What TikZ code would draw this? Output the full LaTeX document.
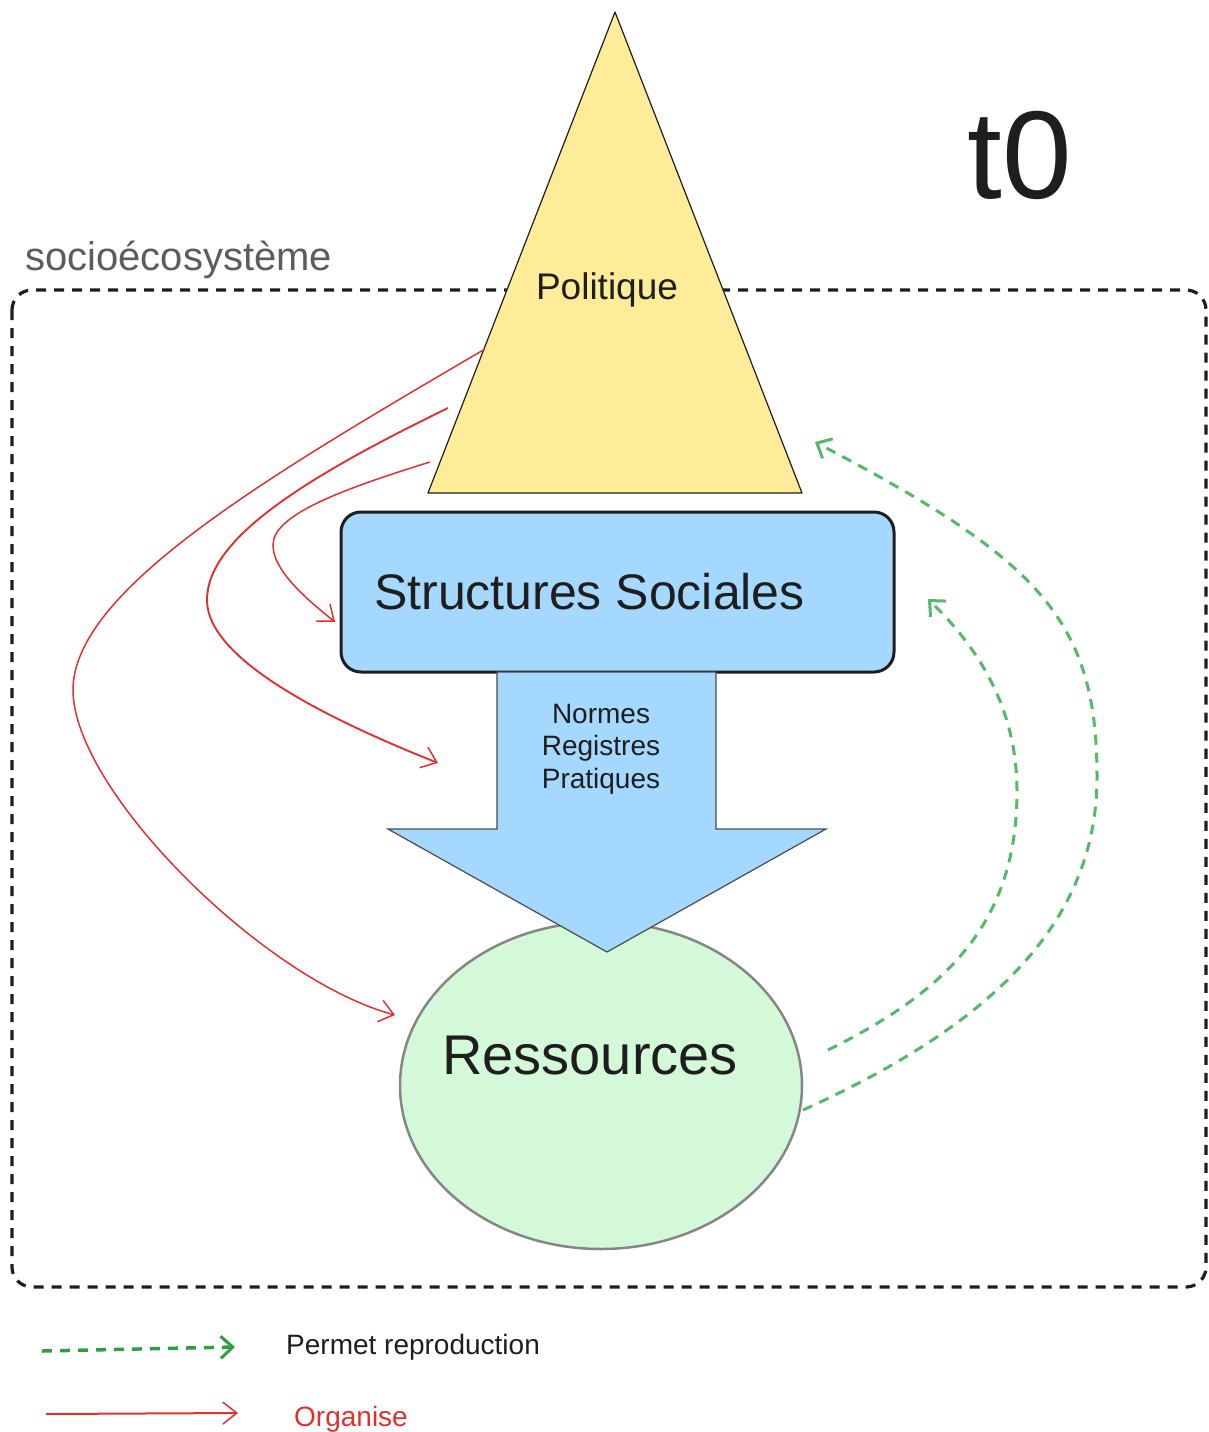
\documentclass[tikz,border=0pt]{standalone}
\usepackage{fontspec}
\setmainfont{Liberation Sans}
\usetikzlibrary{arrows.meta,shapes.geometric}
\definecolor{polyel}{HTML}{FFEC99}
\definecolor{sblue}{HTML}{A5D8FF}
\definecolor{rgreen}{HTML}{D3F9D8}
\definecolor{orgred}{HTML}{E03131}
\definecolor{repgreen}{HTML}{55B96B}
\definecolor{legreen}{HTML}{2F9E44}
\definecolor{inkc}{HTML}{1E1E1E}
\definecolor{labgray}{HTML}{5C5C5C}
\definecolor{elgray}{HTML}{868686}
\tikzset{
  frame/.style={draw=inkc, line width=3.2pt, dash pattern=on 10pt off 8pt, rounded corners=20pt},
  organise/.style={draw=orgred, line width=1.5pt, -{Straight Barb[length=14pt,width=22pt,line width=1.5pt]}},
  reprod/.style={draw=repgreen, line width=3pt, dash pattern=on 10pt off 8pt, -{Straight Barb[length=12pt,width=22pt,line width=3pt]}},
  txt/.style={inner sep=0pt, text=inkc},
}
\begin{document}
\begin{tikzpicture}[x=1pt,y=-1pt]
\useasboundingbox (0,0) rectangle (1208,1432);
% frame
\draw[frame] (12,290) rectangle (1206,1287);
\node[txt, text=labgray, anchor=base west, font=\fontsize{40}{48}\selectfont] (lab) at (25,270) {socioécosystème};
% triangle
\coordinate (tA) at (615,12);
\coordinate (tL) at (428,493);
\coordinate (tR) at (802,493);
\filldraw[fill=polyel, draw=inkc, line width=1.2pt, line join=round] (tA) -- (tR) -- (tL) -- cycle;
\node[txt, font=\fontsize{37}{44}\selectfont] (pol) at (607,290) {Politique};
% structures sociales
\node[draw=inkc, fill=sblue, line width=3pt, rounded corners=20pt, minimum width=553pt, minimum height=160pt, inner sep=0pt] (ss) at (617.5,592) {};
\node[txt, font=\fontsize{50}{60}\selectfont] (sstxt) at (589.5,592) {Structures Sociales};
% ressources
\node[draw=elgray, fill=rgreen, line width=2.5pt, ellipse, minimum width=402pt, minimum height=327pt, inner sep=0pt] (res) at (601,1085.5) {};
\node[txt, font=\fontsize{56}{66}\selectfont] (restxt) at (590,1055) {Ressources};
% block arrow
\filldraw[fill=sblue, draw=inkc!80, line width=1.2pt, line join=miter]
  (497,672) -- (716,672) -- (716,829) -- (826,829) -- (607,952) -- (388,829) -- (497,829) -- cycle;
\node[txt, align=center, font=\fontsize{28}{32.5}\selectfont] (nrp) at (601,749) {Normes\\Registres\\Pratiques};
% t0
\node[txt, font=\fontsize{125}{130}\selectfont] (tz) at (1020,155) {t0};
% organise arrows
\coordinate (s1) at (485,349);
\coordinate (e1) at (395,1015);
\coordinate (s2) at (448,408);
\coordinate (e2) at (438,763);
\coordinate (s3) at (430,462);
\coordinate (e3) at (335,622);
\draw[organise] (s1) .. controls (270,475) and (73,590) .. (73,690) .. controls (73,790) and (264,980) .. (e1);
\draw[organise, line width=1.9pt] (s2) .. controls (300,480) and (207,540) .. (207,600) .. controls (207,660) and (330,720) .. (e2);
\draw[organise] (s3) .. controls (340,490) and (273,515) .. (273,545) .. controls (273,570) and (305,598) .. (e3);
% reproduction arrows
\coordinate (g1s) at (803,1110);
\coordinate (g1e) at (815,442);
\coordinate (g2s) at (828,1050);
\coordinate (g2e) at (928,599);
\draw[reprod] (g1s) .. controls (980,1030) and (1097,930) .. (1097,777) .. controls (1097,620) and (1040,560) .. (g1e);
\draw[reprod] (g2s) .. controls (950,990) and (1017,920) .. (1017,791) .. controls (1017,700) and (970,640) .. (g2e);
% legend
\coordinate (l1s) at (42,1351);
\coordinate (l1e) at (235,1347);
\coordinate (l2s) at (46,1414);
\coordinate (l2e) at (238,1413);
\draw[reprod, draw=legreen, line width=3.5pt] (l1s) -- (l1e);
\draw[organise, line width=2pt] (l2s) -- (l2e);
\node[txt, anchor=west, font=\fontsize{28}{34}\selectfont] (lg1) at (286,1347) {Permet reproduction};
\node[txt, text=orgred, anchor=west, font=\fontsize{28}{34}\selectfont] (lg2) at (294,1419) {Organise};
\end{tikzpicture}
\end{document}
